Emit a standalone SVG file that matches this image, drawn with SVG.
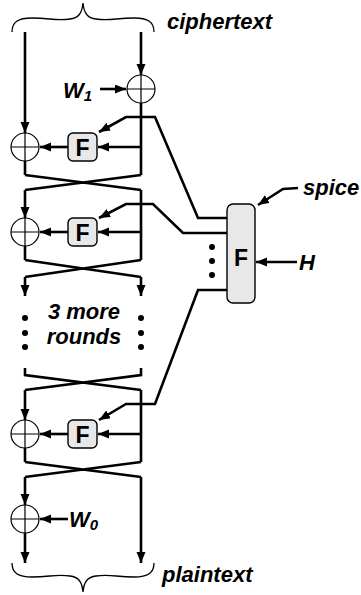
<svg xmlns="http://www.w3.org/2000/svg" width="361" height="595" viewBox="0 0 361 595">
<style>
.w{fill:none;stroke:#000;stroke-width:2.6;stroke-linejoin:miter}
.a{marker-end:url(#ah)}
.thin{fill:none;stroke:#000;stroke-width:1.3}
.xor circle{fill:#fff;stroke:#000;stroke-width:1.2}
.xor path{stroke:#000;stroke-width:1.2;fill:none}
.fb{fill:#e8e8e8;stroke:#000;stroke-width:1.4}
.ft{font-family:"Liberation Sans",Arial,sans-serif;font-weight:bold;font-size:23px;text-anchor:middle}
.lb{font-family:"Liberation Sans",Arial,sans-serif;font-weight:bold;font-style:italic;font-size:22px}
.dot{fill:#000}
</style>
<defs>
<marker id="ah" markerUnits="userSpaceOnUse" markerWidth="12" markerHeight="10" refX="11" refY="4.5" orient="auto">
<path d="M0,0 L11,4.5 L0,9 Z" fill="#000"/>
</marker>
</defs>

<g id="braces">
<path class="thin" d="M12,32 C12,22 18,18 32,18 C50,18 56,21 70,19 C78,18 82,14 83,3 C84,14 88,18 96,19 C110,21 116,18 134,18 C148,18 154,22 154,32"/>
<path class="thin" d="M12,563 C12,573 18,577 32,577 C50,577 56,574 70,576 C78,577 82,581 83,592 C84,581 88,577 96,576 C110,574 116,577 134,577 C148,577 154,573 154,563"/>
</g>

<g id="connectors">
<path class="w a" d="M25,32 V133"/>
<path class="w a" d="M141,32 V75"/>
<path class="w a" d="M100,89 H126"/>
<path class="w" d="M141,103 V175"/>
<path class="w a" d="M141,147 H98"/>
<path class="w a" d="M68,147 H40"/>
<path class="w" d="M25,161 V175"/>
<path class="w" d="M25,175 L141,190 M141,175 L25,190"/>
<path class="w a" d="M25,190 V218"/>
<path class="w" d="M141,190 V260"/>
<path class="w a" d="M141,232 H98"/>
<path class="w a" d="M68,232 H40"/>
<path class="w" d="M25,246 V260"/>
<path class="w" d="M25,260 L141,277 M141,260 L25,277"/>
<path class="w a" d="M25,277 V296"/>
<path class="w a" d="M141,277 V296"/>
<path class="w" d="M25,368 V375 L141,390 M141,368 V375 L25,390"/>
<path class="w a" d="M25,390 V420"/>
<path class="w" d="M141,390 V462"/>
<path class="w a" d="M141,434 H98"/>
<path class="w a" d="M68,434 H40"/>
<path class="w" d="M25,448 V462"/>
<path class="w" d="M25,462 L141,477 M141,462 L25,477"/>
<path class="w a" d="M25,477 V505"/>
<path class="w a" d="M68,519 H40"/>
<path class="w a" d="M25,533 V563"/>
<path class="w a" d="M141,477 V563"/>
<path class="w a" d="M227,218 H198 L155,117 H126 L99,132"/>
<path class="w a" d="M227,233 H183 L153,204 H126 L99,218"/>
<path class="w a" d="M227,290 H198 L155,404 H126 L99,420"/>
<path class="w a" d="M298,188 L283,189 L258,205"/>
<path class="w a" d="M297,262 H256"/>
</g>

<g id="xor-w1" class="xor"><circle cx="141" cy="89" r="14"/><path d="M127,89 H155 M141,75 V103"/></g>
<g id="xor-1" class="xor"><circle cx="25" cy="147" r="14"/><path d="M11,147 H39 M25,133 V161"/></g>
<g id="xor-2" class="xor"><circle cx="25" cy="232" r="14"/><path d="M11,232 H39 M25,218 V246"/></g>
<g id="xor-3" class="xor"><circle cx="25" cy="434" r="14"/><path d="M11,434 H39 M25,420 V448"/></g>
<g id="xor-w0" class="xor"><circle cx="25" cy="519" r="14"/><path d="M11,519 H39 M25,505 V533"/></g>

<g id="f1"><rect class="fb" x="68" y="133" width="29" height="28" rx="5"/><text class="ft" x="82.5" y="155.5">F</text></g>
<g id="f2"><rect class="fb" x="68" y="218" width="29" height="28" rx="5"/><text class="ft" x="82.5" y="240.5">F</text></g>
<g id="f3"><rect class="fb" x="68" y="420" width="29" height="28" rx="5"/><text class="ft" x="82.5" y="442.5">F</text></g>

<g id="spice-f"><rect class="fb" x="227" y="204" width="28" height="99" rx="6"/><text class="ft" x="241" y="266">F</text>
<circle class="dot" cx="212" cy="247" r="3"/><circle class="dot" cx="212" cy="261" r="3"/><circle class="dot" cx="212" cy="275" r="3"/></g>

<g id="more-rounds">
<circle class="dot" cx="25" cy="318" r="3"/><circle class="dot" cx="25" cy="333" r="3"/><circle class="dot" cx="25" cy="347" r="3"/>
<circle class="dot" cx="141" cy="318" r="3"/><circle class="dot" cx="141" cy="333" r="3"/><circle class="dot" cx="141" cy="347" r="3"/>
<text class="lb" x="84" y="319" text-anchor="middle">3 more</text>
<text class="lb" x="84" y="344" text-anchor="middle">rounds</text>
</g>

<g id="labels">
<text class="lb" x="167" y="29">ciphertext</text>
<text class="lb" x="162" y="582">plaintext</text>
<text class="lb" x="303" y="195">spice</text>
<text class="lb" x="299" y="270">H</text>
<text class="lb" x="63" y="98">W<tspan font-size="15" dy="3">1</tspan></text>
<text class="lb" x="69" y="527">W<tspan font-size="15" dy="3">0</tspan></text>
</g>
</svg>
